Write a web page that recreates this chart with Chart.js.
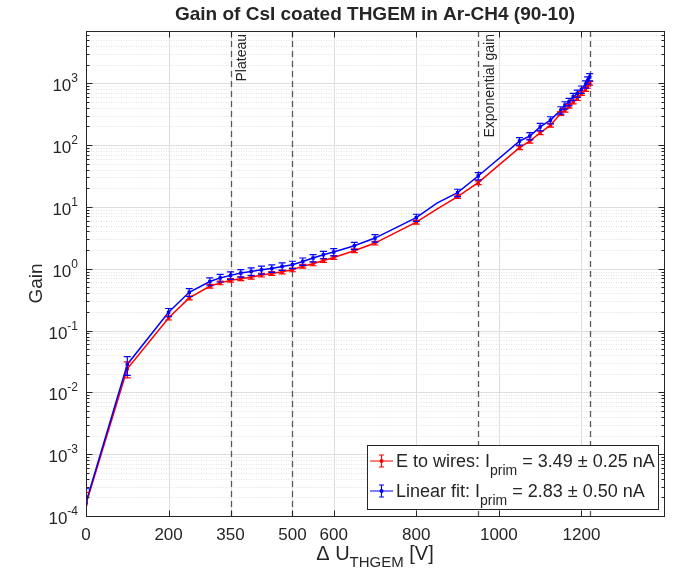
<!DOCTYPE html>
<html>
<head>
<meta charset="utf-8">
<script src="https://cdn.jsdelivr.net/npm/chart.js@4/dist/chart.umd.min.js"></script>
<style>
html,body{margin:0;padding:0;background:#fff;}
#wrap{position:relative;width:677px;height:574px;}
</style>
</head>
<body>
<div id="wrap"><canvas id="c" width="677" height="574"></canvas></div>
<script>
// ---- data ----
const voltages = [0, 100, 200, 250, 300, 325, 350, 375, 400, 425, 450, 475, 500, 525, 550, 575, 600, 650, 700, 800, 850, 900, 950, 1050, 1075, 1100, 1125, 1150, 1160, 1170, 1180, 1190, 1200, 1210, 1215, 1220];
const gainWires = [1.56e-4, 0.0241, 0.16, 0.337, 0.52, 0.59, 0.65, 0.69, 0.73, 0.79, 0.84, 0.89, 0.96, 1.1, 1.2, 1.36, 1.52, 1.95, 2.6, 5.66, 9.2, 14.7, 24.7, 90.6, 116, 158, 210, 325, 367, 425, 500, 566, 683, 794, 893, 1000];
const errWires = [0.85e-4, 0.007, 0.012, 0.024, 0.036, 0.04, 0.045, 0.048, 0.05, 0.055, 0.058, 0.062, 0.067, 0.077, 0.084, 0.095, 0.106, 0.136, 0.18, 0.4, 0, 1.0, 1.7, 6.3, 8.1, 11, 15, 23, 26, 30, 35, 40, 48, 56, 63, 70];
const gainFit = [1.66e-4, 0.0283, 0.197, 0.415, 0.62, 0.71, 0.78, 0.85, 0.905, 0.96, 1.01, 1.09, 1.16, 1.31, 1.49, 1.68, 1.86, 2.35, 3.13, 6.7, 11.5, 17.0, 31.6, 116, 140, 197, 253, 367, 442, 500, 603, 683, 794, 964, 1117, 1260];
const errFit = [1.1e-4, 0.0095, 0.03, 0.06, 0.09, 0.1, 0.11, 0.12, 0.13, 0.14, 0.14, 0.15, 0.16, 0.18, 0.2, 0.23, 0.25, 0.32, 0.43, 0.9, 0, 2.3, 4.3, 16, 19, 27, 34, 50, 60, 68, 82, 93, 108, 130, 150, 170];
const xTickValues = [0, 200, 350, 500, 600, 800, 1000, 1200];
const yDecades = [-4, -3, -2, -1, 0, 1, 2, 3];
const regionLines = [350, 500, 950, 1220];
const regionLabels = [{x: 350, text: 'Plateau'}, {x: 950, text: 'Exponential gain'}];
const seriesNames = [
  {main: 'E to wires: I', sub: 'prim', rest: ' = 3.49 \u00B1 0.25 nA'},
  {main: 'Linear fit: I', sub: 'prim', rest: ' = 2.83 \u00B1 0.50 nA'}
];
const titleText = 'Gain of CsI coated THGEM in Ar-CH4 (90-10)';

const RED = '#ff0000', BLUE = '#0000ff', AX = '#262626';
const FONT = '"Liberation Sans", Arial, Helvetica, sans-serif';
const X_MIN = 0, X_MAX = 1400, Y_MIN = 1e-4, Y_MAX = 7000;

function pts(g){ return voltages.map((v,i)=>({x:v, y:g[i]})); }

const drawPlugin = {
  id: 'matlabLook',
  beforeDatasetsDraw(chart){
    const ctx = chart.ctx, a = chart.chartArea, xs = chart.scales.x, ys = chart.scales.y;
    ctx.save();
    ctx.beginPath(); ctx.rect(a.left, a.top, a.right-a.left, a.bottom-a.top); ctx.clip();
    ctx.lineWidth = 1; ctx.strokeStyle = '#e2e2e2'; ctx.setLineDash([1,1.5]);
    yDecades.forEach(d=>{
      for(let m=2;m<=9;m++){
        const v = m*Math.pow(10,d); if(v>Y_MAX) continue;
        const y = Math.round(ys.getPixelForValue(v))+0.5;
        ctx.beginPath(); ctx.moveTo(a.left,y); ctx.lineTo(a.right,y); ctx.stroke();
      }
    });
    ctx.setLineDash([]); ctx.strokeStyle = '#dedede';
    yDecades.forEach(d=>{
      const y = Math.round(ys.getPixelForValue(Math.pow(10,d)))+0.5;
      ctx.beginPath(); ctx.moveTo(a.left,y); ctx.lineTo(a.right,y); ctx.stroke();
    });
    xTickValues.forEach(v=>{
      const x = Math.round(xs.getPixelForValue(v))+0.5;
      ctx.beginPath(); ctx.moveTo(x,a.top); ctx.lineTo(x,a.bottom); ctx.stroke();
    });
    ctx.strokeStyle = '#5a5a5a'; ctx.lineWidth = 1.3; ctx.setLineDash([6,4]);
    regionLines.forEach(v=>{
      const x = Math.round(xs.getPixelForValue(v))+0.5;
      ctx.beginPath(); ctx.moveTo(x,a.top); ctx.lineTo(x,a.bottom); ctx.stroke();
    });
    ctx.restore();
    ctx.save();
    ctx.fillStyle = AX; ctx.font = '14px '+FONT;
    regionLabels.forEach(r=>{
      const x = xs.getPixelForValue(r.x) + 12;
      ctx.save(); ctx.translate(x, a.top+3); ctx.rotate(-Math.PI/2);
      ctx.textAlign = 'right'; ctx.textBaseline = 'middle';
      ctx.fillText(r.text, 0, 0); ctx.restore();
    });
    ctx.restore();
  },
  afterDatasetsDraw(chart){
    const ctx = chart.ctx, a = chart.chartArea, xs = chart.scales.x, ys = chart.scales.y;
    ctx.save();
    ctx.beginPath(); ctx.rect(a.left, a.top, a.right-a.left, a.bottom-a.top); ctx.clip();
    [[gainWires, errWires, RED],[gainFit, errFit, BLUE]].forEach(([g,e,col])=>{
      ctx.strokeStyle = col; ctx.lineWidth = 1.2;
      voltages.forEach((v,i)=>{
        if(!e[i]) return;
        const x = xs.getPixelForValue(v);
        const hi = g[i]+e[i], lo = g[i]-e[i];
        const yh = ys.getPixelForValue(hi);
        const yl = lo>0 ? ys.getPixelForValue(lo) : a.bottom+10;
        ctx.beginPath(); ctx.moveTo(x,yh); ctx.lineTo(x,yl);
        ctx.moveTo(x-3.5,yh); ctx.lineTo(x+3.5,yh);
        ctx.moveTo(x-3.5,yl); ctx.lineTo(x+3.5,yl);
        ctx.stroke();
      });
    });
    ctx.restore();
  },
  afterDraw(chart){
    const ctx = chart.ctx, a = chart.chartArea, xs = chart.scales.x, ys = chart.scales.y;
    ctx.save();
    ctx.strokeStyle = AX; ctx.lineWidth = 1;
    const L = Math.round(a.left)+0.5, R = Math.round(a.right)+0.5, T = Math.round(a.top)+0.5, B = Math.round(a.bottom)+0.5;
    ctx.strokeRect(L, T, R-L, B-T);
    ctx.beginPath();
    xTickValues.forEach(v=>{
      const x = Math.round(xs.getPixelForValue(v))+0.5;
      ctx.moveTo(x,B); ctx.lineTo(x,B-6); ctx.moveTo(x,T); ctx.lineTo(x,T+6);
    });
    yDecades.forEach(d=>{
      const y = Math.round(ys.getPixelForValue(Math.pow(10,d)))+0.5;
      ctx.moveTo(L,y); ctx.lineTo(L+6,y); ctx.moveTo(R,y); ctx.lineTo(R-6,y);
      for(let m=2;m<=9;m++){
        const v = m*Math.pow(10,d); if(v>Y_MAX) continue;
        const yy = Math.round(ys.getPixelForValue(v))+0.5;
        ctx.moveTo(L,yy); ctx.lineTo(L+3,yy); ctx.moveTo(R,yy); ctx.lineTo(R-3,yy);
      }
    });
    ctx.stroke();
    ctx.fillStyle = AX; ctx.font = '17px '+FONT; ctx.textAlign = 'center'; ctx.textBaseline = 'alphabetic';
    xTickValues.forEach(v=>{ ctx.fillText(String(v), xs.getPixelForValue(v), B+23); });
    yDecades.forEach(d=>{
      const y = ys.getPixelForValue(Math.pow(10,d));
      const sup = String(d);
      ctx.font = '12px '+FONT;
      const ws = ctx.measureText(sup).width;
      ctx.textAlign = 'right';
      ctx.fillText(sup, a.left-8, y-1);
      ctx.font = '17px '+FONT;
      ctx.fillText('10', a.left-8-ws, y+8);
    });
    ctx.save(); ctx.translate(42, (a.top+a.bottom)/2 + 10); ctx.rotate(-Math.PI/2);
    ctx.font = '19px '+FONT; ctx.textAlign = 'center'; ctx.textBaseline = 'alphabetic';
    ctx.fillText('Gain', 0, 0); ctx.restore();
    ctx.textAlign = 'left';
    const p1 = '\u0394 U', p2 = 'THGEM', p3 = ' [V]';
    ctx.font = '20px '+FONT; const w1 = ctx.measureText(p1).width, w3 = ctx.measureText(p3).width;
    ctx.font = '15px '+FONT; const w2 = ctx.measureText(p2).width;
    let x0 = (a.left+a.right)/2 - (w1+w2+w3)/2; const yb = 560;
    ctx.font = '20px '+FONT; ctx.fillText(p1, x0, yb);
    ctx.font = '15px '+FONT; ctx.fillText(p2, x0+w1, yb+7);
    ctx.font = '20px '+FONT; ctx.fillText(p3, x0+w1+w2, yb);
    ctx.font = 'bold 19px '+FONT; ctx.textAlign = 'center';
    ctx.fillText(titleText, (a.left+a.right)/2, 20);
    const bx = 367.5, by = 445.5, bw = 291, bh = 64;
    ctx.fillStyle = '#fff'; ctx.fillRect(bx, by, bw, bh);
    ctx.strokeStyle = AX; ctx.lineWidth = 1; ctx.strokeRect(bx, by, bw, bh);
    [[RED, 461],[BLUE, 491]].forEach(([col, yy], k)=>{
      ctx.strokeStyle = col; ctx.fillStyle = col; ctx.lineWidth = 1.2;
      ctx.beginPath(); ctx.moveTo(370, yy); ctx.lineTo(393, yy);
      ctx.moveTo(381.5, yy-6); ctx.lineTo(381.5, yy+6);
      ctx.moveTo(379, yy-6); ctx.lineTo(384, yy-6);
      ctx.moveTo(379, yy+6); ctx.lineTo(384, yy+6);
      ctx.stroke();
      ctx.beginPath(); ctx.arc(381.5, yy, 2, 0, 2*Math.PI); ctx.fill();
      const s = seriesNames[k];
      ctx.fillStyle = AX; ctx.textAlign = 'left';
      let x = 396;
      ctx.font = '18px '+FONT; ctx.fillText(s.main, x, yy+6); x += ctx.measureText(s.main).width;
      ctx.font = '14px '+FONT; ctx.fillText(s.sub, x, yy+14); x += ctx.measureText(s.sub).width;
      ctx.font = '18px '+FONT; ctx.fillText(s.rest, x, yy+6);
    });
    ctx.restore();
  }
};

new Chart(document.getElementById('c'), {
  type: 'line',
  data: {
    datasets: [
      {label: 'E to wires', data: pts(gainWires), borderColor: RED, backgroundColor: RED, borderWidth: 1.5,
       pointRadius: voltages.map((v,i)=> errWires[i] ? 2.4 : 0), pointStyle: 'rect', pointBorderWidth: 0, order: 1, tension: 0},
      {label: 'Linear fit', data: pts(gainFit), borderColor: BLUE, backgroundColor: BLUE, borderWidth: 1.5,
       pointRadius: voltages.map((v,i)=> errFit[i] ? 2.4 : 0), pointStyle: 'rect', pointBorderWidth: 0, order: 0, tension: 0}
    ]
  },
  options: {
    responsive: false, animation: false, devicePixelRatio: 1,
    layout: {padding: {top: 31, right: 13, left: 0, bottom: 0}},
    plugins: {legend: {display: false}, tooltip: {enabled: false}, title: {display: false}},
    scales: {
      x: {type: 'linear', min: X_MIN, max: X_MAX, ticks: {display: false}, grid: {display: false}, border: {display: false},
          afterFit(s){ s.height = 58; }},
      y: {type: 'logarithmic', min: Y_MIN, max: Y_MAX, ticks: {display: false}, grid: {display: false}, border: {display: false},
          afterFit(s){ s.width = 86; }}
    }
  },
  plugins: [drawPlugin]
});
</script>
</body>
</html>
